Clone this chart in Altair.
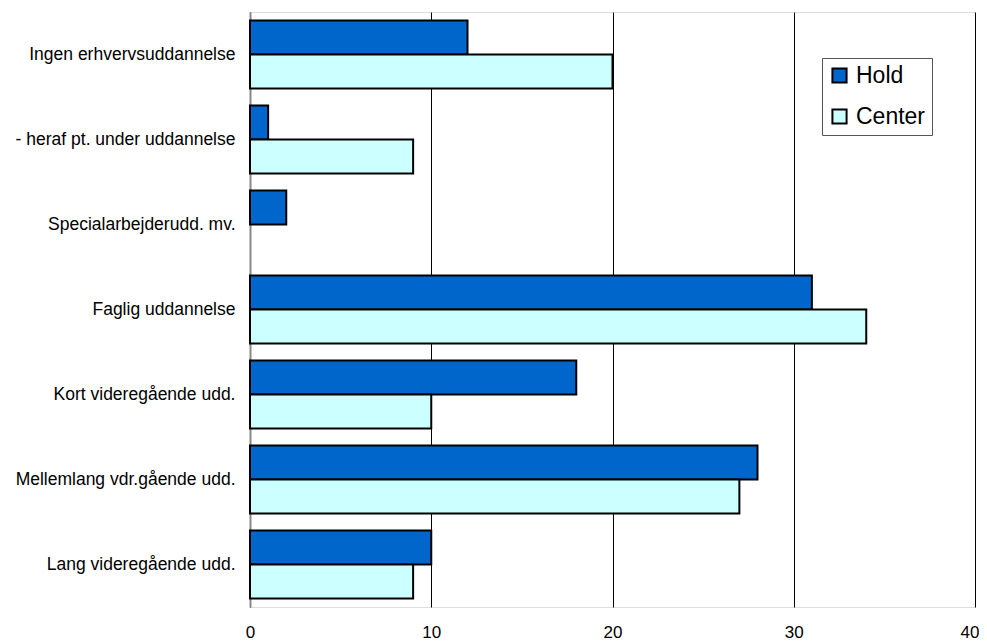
import altair as alt
import pandas as pd

categories = ["Ingen erhvervsuddannelse", "- heraf pt. under uddannelse", "Specialarbejderudd. mv.",
              "Faglig uddannelse", "Kort videregående udd.", "Mellemlang vdr.gående udd.",
              "Lang videregående udd."]
hold = [12, 1, 2, 31, 18, 28, 10]
center = [20, 9, 0, 34, 10, 27, 9]
series = ["Hold", "Center"]
colors = ["#0066CC", "#CCFFFF"]

rows = []
for c, h, ce in zip(categories, hold, center):
    rows.append({"cat": c, "series": "Hold", "value": h})
    rows.append({"cat": c, "series": "Center", "value": ce})
df = pd.DataFrame(rows)

bars = alt.Chart(df).mark_bar(stroke="black", strokeWidth=2).encode(
    x=alt.X("value:Q", scale=alt.Scale(domain=[0, 40], nice=False),
            axis=alt.Axis(values=[0, 10, 20, 30, 40], grid=True, gridColor="black", gridWidth=1,
                          domain=False, ticks=False, title=None, labelFont="Liberation Sans",
                          labelFontSize=17, labelColor="black", labelPadding=17, labelFlush=False,
                          labelAlign=alt.ExprRef("datum.value == 40 ? 'right' : 'center'"),
                          labelOffset=alt.ExprRef("datum.value == 40 ? 4 : 0"))),
    y=alt.Y("cat:N", sort=categories, scale=alt.Scale(paddingInner=0.2, paddingOuter=0.1),
            axis=alt.Axis(title=None, ticks=False, domain=True, domainColor="#888888", domainWidth=2,
                          labelFont="Liberation Sans", labelFontSize=17.5, labelColor="black",
                          labelPadding=15, labelLimit=300)),
    yOffset=alt.YOffset("series:N", sort=series),
    fill=alt.Fill("series:N", sort=series, scale=alt.Scale(domain=series, range=colors),
                  legend=alt.Legend(title=None, orient="none", legendX=572, legendY=46,
                                    symbolType="square", symbolSize=200, symbolStrokeColor="black",
                                    symbolStrokeWidth=2, labelFont="Liberation Sans", labelFontSize=23,
                                    labelColor="black", rowPadding=17, padding=6,
                                    strokeColor="#555555", fillColor="white", labelOffset=5)),
    opacity=alt.condition("datum.value > 0", alt.value(1), alt.value(0)),
).properties(width=725, height=595)

chart = bars.properties(
    autosize=alt.AutoSizeParams(type="none"),
    padding={"left": 242, "top": 4, "right": 4, "bottom": 36},
).configure_view(stroke=None).configure(background="white")

chart.save("out.html", embed_options={"renderer": "svg", "actions": False})
